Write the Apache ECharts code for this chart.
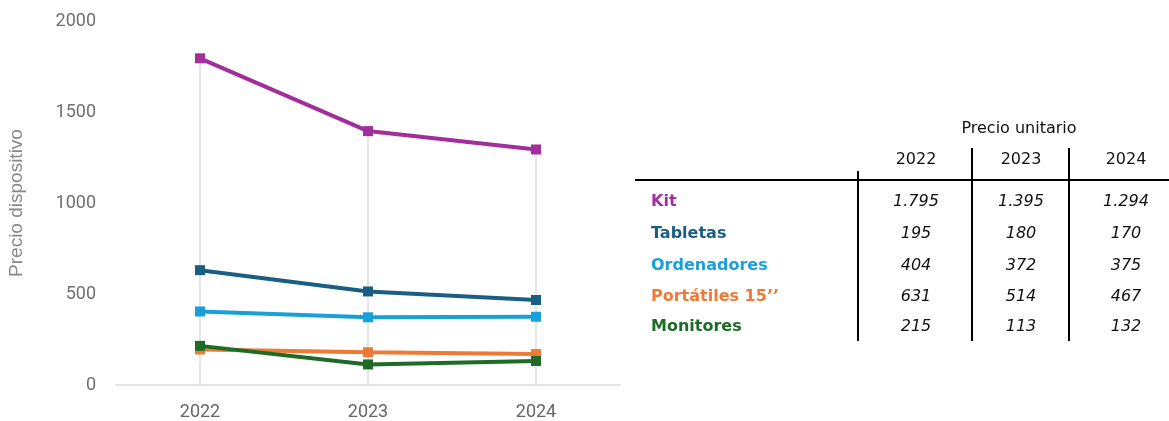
<!DOCTYPE html>
<html>
<head>
<meta charset="utf-8">
<script src="https://cdn.jsdelivr.net/npm/echarts@6/dist/echarts.min.js"></script>
<style>
html,body{margin:0;padding:0;background:#fff;}
#chart{width:1169px;height:421px;}
</style>
</head>
<body>
<div id="chart"></div>
<script>
// ---- data ----
var years = ['2022', '2023', '2024'];
var yTicks = [0, 500, 1000, 1500, 2000];
var products = ['Kit', 'Tabletas', 'Ordenadores', 'Portátiles 15\u2019\u2019', 'Monitores'];
var kit = [1795, 1395, 1294];
var tabletas = [195, 180, 170];
var ordenadores = [404, 372, 375];
var portatiles = [631, 514, 467];
var monitores = [215, 113, 132];
var tableTitle = 'Precio unitario';
var yAxisName = 'Precio dispositivo';

// table label colours (as in the table)
var labelColors = ['#a22e9c', '#1b5e84', '#17a0da', '#ef7a36', '#1d6b26'];
// line colours (as drawn in the chart)
var lineSeries = [
  {name: 'Kit', data: kit, color: '#a22e9c'},
  {name: 'Portátiles 15\u2019\u2019', data: portatiles, color: '#1b5e84'},
  {name: 'Ordenadores', data: ordenadores, color: '#17a0da'},
  {name: 'Tabletas', data: tabletas, color: '#ef7a36'},
  {name: 'Monitores', data: monitores, color: '#1d6b26'}
];
var tableRows = [kit, tabletas, ordenadores, portatiles, monitores];

function fmt(v) {
  var s = String(v);
  if (v >= 1000) s = s.slice(0, s.length - 3) + '.' + s.slice(s.length - 3);
  return s;
}

// drop line heights: max value per category
var dropMax = years.map(function (y, i) {
  return Math.max.apply(null, tableRows.map(function (r) { return r[i]; }));
});

var series = [{
  type: 'bar',
  data: dropMax,
  barWidth: 1.5,
  silent: true,
  z: 1,
  itemStyle: {color: '#dedede'}
}];
lineSeries.forEach(function (s) {
  series.push({
    type: 'line',
    name: s.name,
    data: s.data,
    symbol: 'rect',
    symbolSize: 10,
    z: 3,
    lineStyle: {color: s.color, width: 4},
    itemStyle: {color: s.color},
    emphasis: {disabled: true}
  });
});

// ---- table (graphic) ----
var colX = [916, 1021, 1126];
var rowY = [202, 234, 266, 297, 327];
var ff = '"DejaVu Sans", Verdana, sans-serif';
function txt(x, y, s, extra) {
  var st = {text: s, x: 0, y: 0, align: 'center', verticalAlign: 'middle',
    fontFamily: ff, fontSize: 16, fill: '#111'};
  for (var k in extra) st[k] = extra[k];
  return {type: 'text', x: x, y: y, style: st, silent: true};
}
var g = [];
g.push(txt(1019, 129, tableTitle, {}));
years.forEach(function (y, i) { g.push(txt(colX[i], 160, y, {})); });
g.push({type: 'line', silent: true, shape: {x1: 635, y1: 180, x2: 1169, y2: 180}, style: {stroke: '#000', lineWidth: 2}});
g.push({type: 'line', silent: true, shape: {x1: 858, y1: 171, x2: 858, y2: 341}, style: {stroke: '#000', lineWidth: 2}});
g.push({type: 'line', silent: true, shape: {x1: 972, y1: 148, x2: 972, y2: 341}, style: {stroke: '#000', lineWidth: 2}});
g.push({type: 'line', silent: true, shape: {x1: 1069, y1: 148, x2: 1069, y2: 341}, style: {stroke: '#000', lineWidth: 2}});
products.forEach(function (p, r) {
  g.push(txt(651, rowY[r], p, {align: 'left', fontWeight: 'bold', fill: labelColors[r]}));
  tableRows[r].forEach(function (v, c) {
    g.push(txt(colX[c], rowY[r], fmt(v), {fontStyle: 'italic'}));
  });
});

var axisFont = 'Roboto, "Liberation Sans", Arial, sans-serif';
var chart = echarts.init(document.getElementById('chart'), null, {renderer: 'canvas'});
chart.setOption({
  animation: false,
  backgroundColor: '#fff',
  grid: {left: 116, right: 549, top: 21, bottom: 35, containLabel: false},
  xAxis: {
    type: 'category',
    data: years,
    boundaryGap: true,
    axisLine: {lineStyle: {color: '#dcdcdc', width: 1.5}},
    axisTick: {show: false},
    splitLine: {show: false},
    axisLabel: {color: '#666', fontSize: 18, fontFamily: axisFont, margin: 18}
  },
  yAxis: {
    type: 'value',
    min: yTicks[0],
    max: yTicks[yTicks.length - 1],
    interval: yTicks[1] - yTicks[0],
    name: yAxisName,
    nameLocation: 'middle',
    nameGap: 90,
    nameTextStyle: {color: '#888', fontSize: 19, fontFamily: '"Liberation Sans", Arial, sans-serif'},
    axisLine: {show: false},
    axisTick: {show: false},
    splitLine: {show: false},
    axisLabel: {color: '#707070', fontSize: 18, fontFamily: axisFont, margin: 20,
      formatter: function (v) { return String(v); }}
  },
  series: series,
  graphic: g
});
</script>
</body>
</html>
